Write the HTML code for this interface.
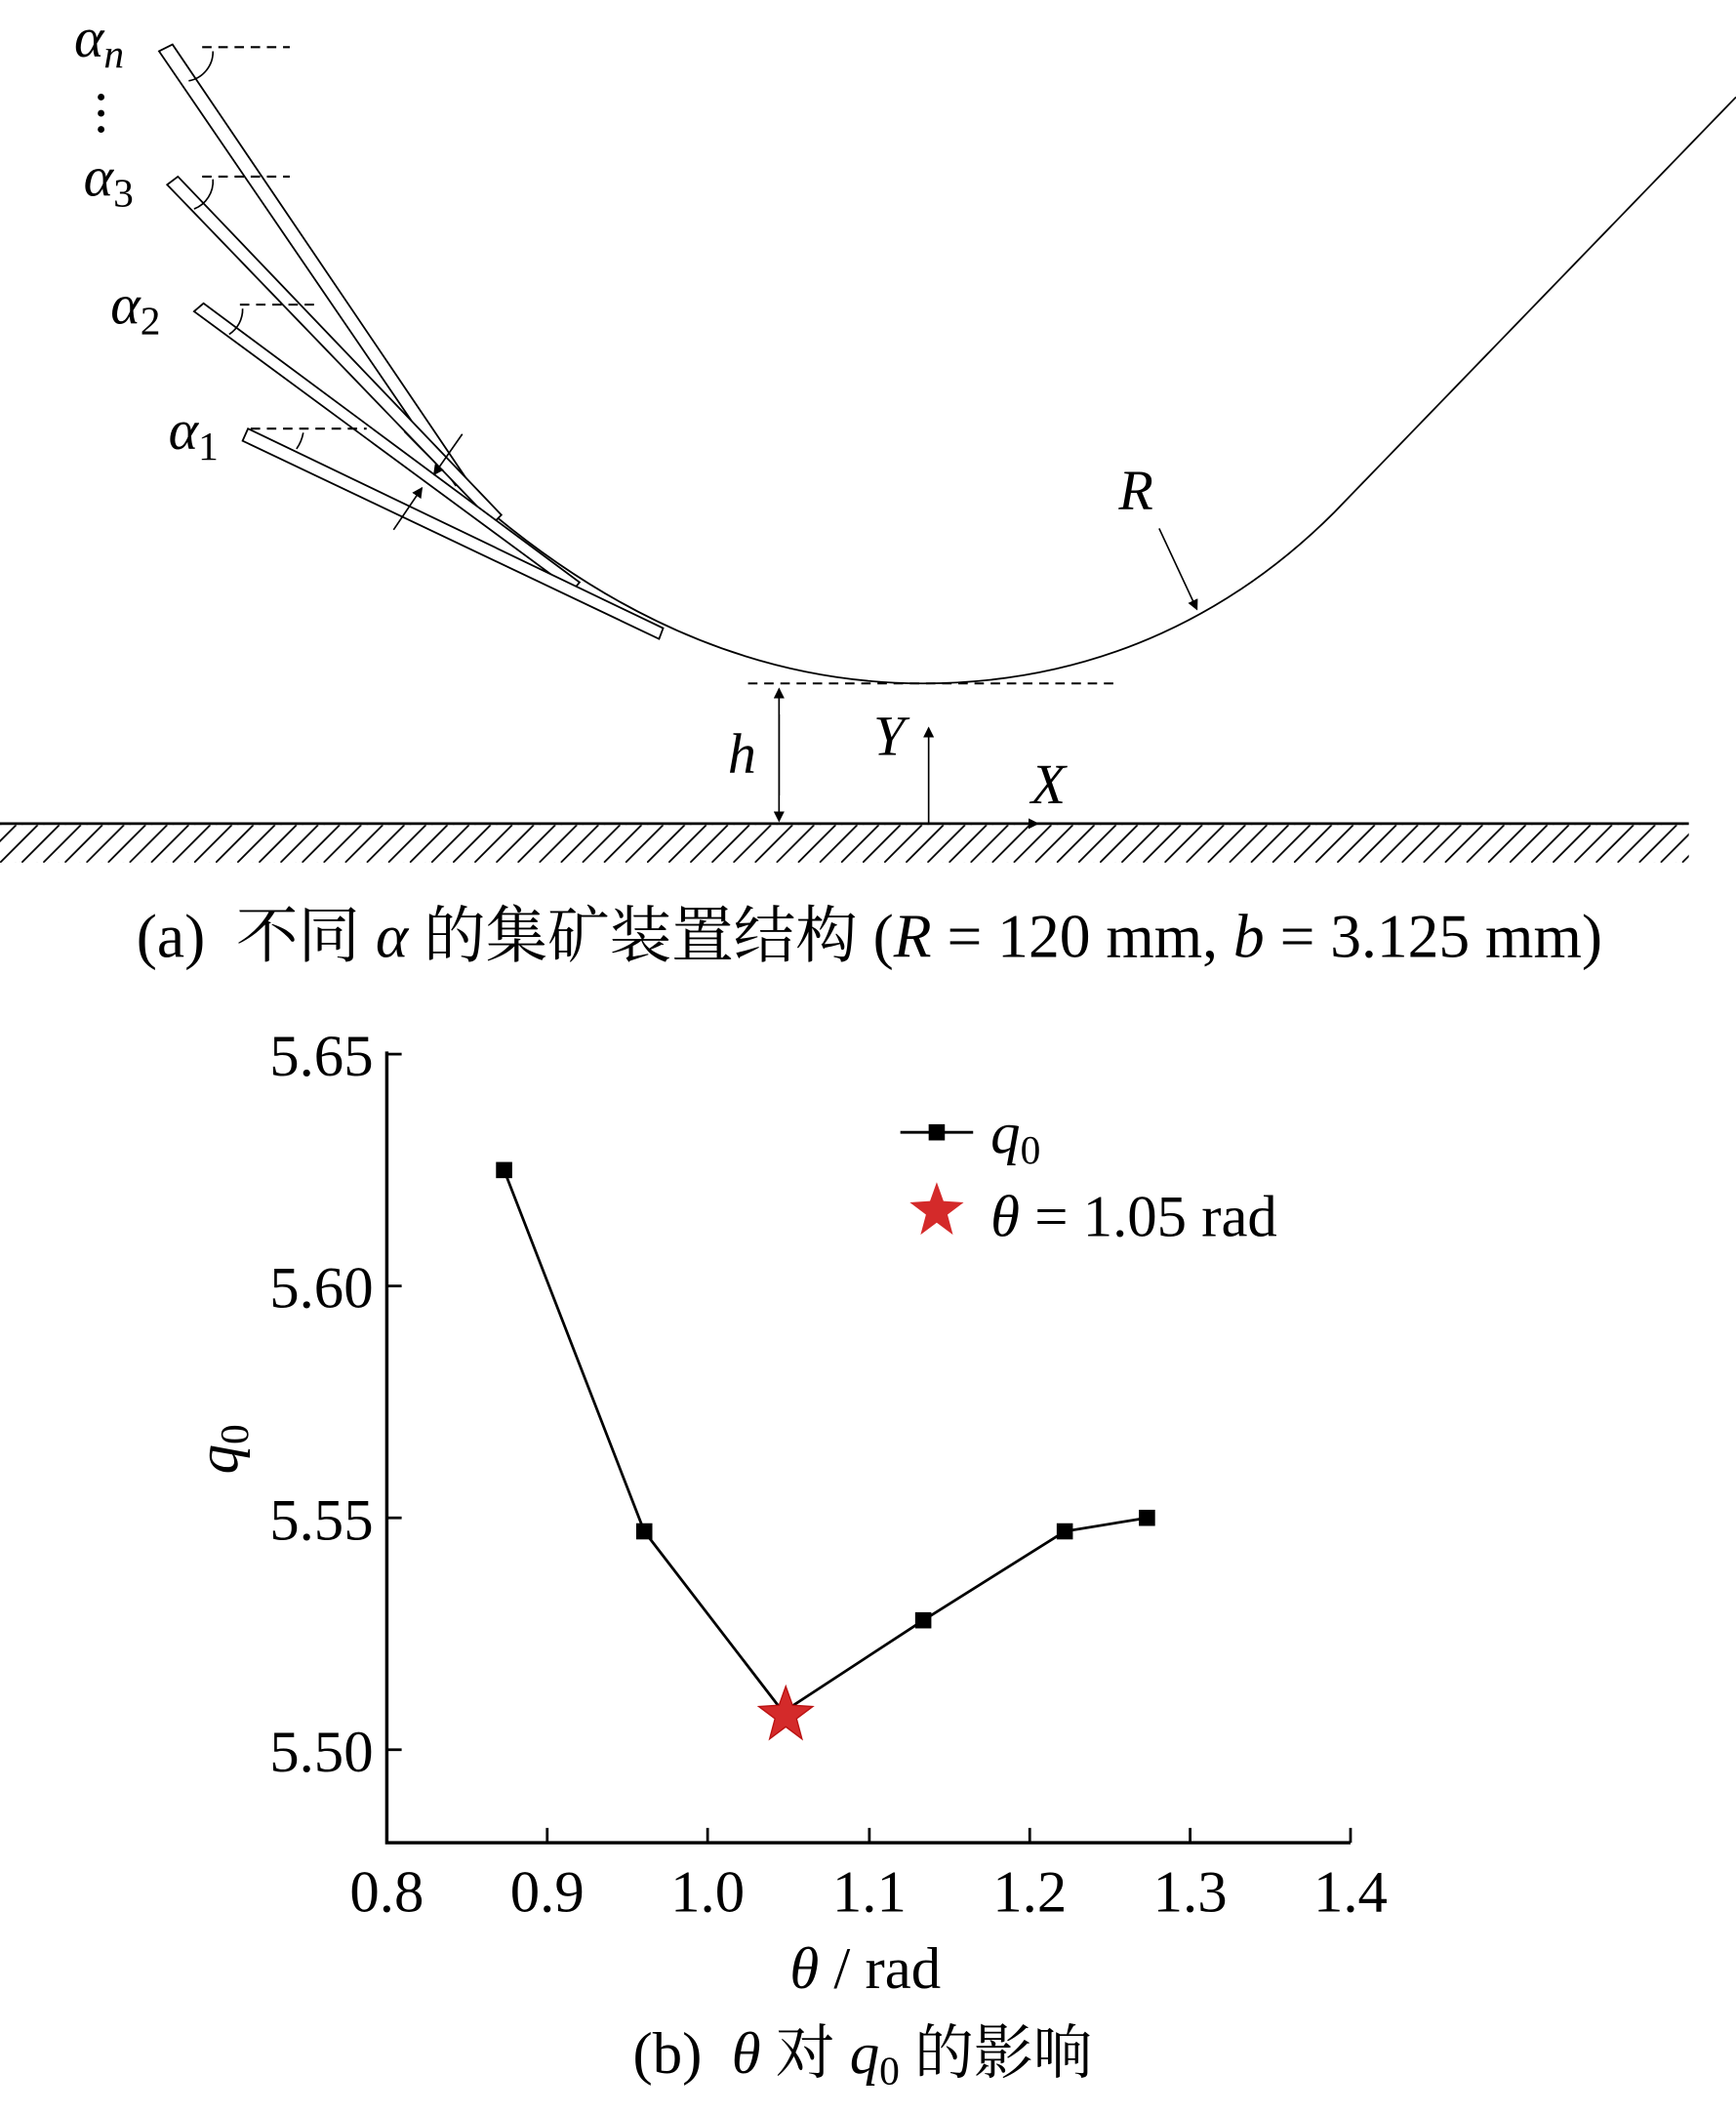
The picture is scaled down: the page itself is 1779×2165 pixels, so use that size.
<!DOCTYPE html>
<html><head><meta charset="utf-8"><style>html,body{margin:0;padding:0;background:#fff}svg{display:block}</style></head>
<body>
<svg width="1779" height="2165" viewBox="0 0 1288 1567.5" preserveAspectRatio="none" xmlns="http://www.w3.org/2000/svg" font-family="'Liberation Serif','Noto Serif CJK SC',serif">
<defs>
<marker id="ar" markerWidth="8" markerHeight="8" refX="7" refY="4" orient="auto" markerUnits="userSpaceOnUse"><path d="M0,0 L8,4 L0,8 z" fill="#000"/></marker>
<pattern id="hatch" x="0" y="612" width="16" height="28" patternUnits="userSpaceOnUse"><line x1="28" y1="0" x2="0" y2="28" stroke="#000" stroke-width="1.3"/><line x1="12" y1="0" x2="-16" y2="28" stroke="#000" stroke-width="1.3"/></pattern>
</defs>
<path d="M 300 320 C 430 455, 560 507, 685 507 C 820 507, 920 450, 990 380 L 1288 72" fill="none" stroke="#000" stroke-width="1.3"/>
<g fill="#fff" stroke="#000" stroke-width="1.3">
<polygon points="118,38 128,33 346,355 338,360"/>
<polygon points="124,137 132,131 372,382 366,388"/>
<polygon points="144,231 151,225 430,432 425,438"/>
<polygon points="180,327 184,318 492,466 489,474"/>
</g>
<g stroke="#000" stroke-width="1.5" stroke-dasharray="7,5" fill="none">
<line x1="150" y1="35" x2="215" y2="35"/>
<line x1="150" y1="131" x2="215" y2="131"/>
<line x1="178" y1="226" x2="238" y2="226"/>
<line x1="186" y1="318" x2="272" y2="318"/>
<line x1="555" y1="507" x2="828" y2="507"/>
</g>
<g stroke="#000" stroke-width="1.2" fill="none">
<path d="M158,38 A22,22 0 0 1 140,60"/>
<path d="M158,133 A22,22 0 0 1 144,155"/>
<path d="M180,229 A22,22 0 0 1 170,248"/>
<path d="M225,321 A30,30 0 0 1 220,333"/>
<line x1="343" y1="322" x2="322" y2="352" marker-end="url(#ar)"/>
<line x1="292" y1="393" x2="313" y2="362" marker-end="url(#ar)"/>
<line x1="860" y1="392" x2="888" y2="452" marker-end="url(#ar)"/>
<line x1="578" y1="590" x2="578" y2="511" marker-end="url(#ar)"/>
<line x1="578" y1="530" x2="578" y2="609" marker-end="url(#ar)"/>
<line x1="689" y1="611" x2="689" y2="540" marker-end="url(#ar)"/>
<line x1="689" y1="611" x2="770" y2="611" marker-end="url(#ar)"/>
</g>
<line x1="0" y1="611" x2="1253" y2="611" stroke="#000" stroke-width="2"/>
<rect x="0" y="612" width="1253" height="28" fill="url(#hatch)"/>
<g fill="#000"><circle cx="75" cy="72" r="2.5"/><circle cx="75" cy="84" r="2.5"/><circle cx="75" cy="96" r="2.5"/></g>
<g font-size="42" font-style="italic">
<text x="55" y="42">α<tspan font-size="30" dy="8">n</tspan></text>
<text x="62" y="145">α<tspan font-size="30" dy="8" font-style="normal">3</tspan></text>
<text x="82" y="240">α<tspan font-size="30" dy="8" font-style="normal">2</tspan></text>
<text x="125" y="333">α<tspan font-size="30" dy="8" font-style="normal">1</tspan></text>
<text x="830" y="378">R</text>
<text x="540" y="573">h</text>
<text x="648" y="560">Y</text>
<text x="765" y="596">X</text>
</g>
<text x="645" y="710" font-size="46" text-anchor="middle" xml:space="preserve">(a)  不同 <tspan font-style="italic">α</tspan> 的集矿装置结构 (<tspan font-style="italic">R</tspan> = 120 mm, <tspan font-style="italic">b</tspan> = 3.125 mm)</text>
<g stroke="#000" stroke-width="2.5" fill="none">
<polyline points="287,780 287,1367 1002,1367"/>
</g>
<g stroke="#000" stroke-width="2">
<line x1="406" y1="1367" x2="406" y2="1356"/><line x1="525" y1="1367" x2="525" y2="1356"/>
<line x1="645" y1="1367" x2="645" y2="1356"/><line x1="764" y1="1367" x2="764" y2="1356"/>
<line x1="883" y1="1367" x2="883" y2="1356"/><line x1="1002" y1="1367" x2="1002" y2="1356"/>
<line x1="287" y1="782" x2="298" y2="782"/><line x1="287" y1="954" x2="298" y2="954"/>
<line x1="287" y1="1126" x2="298" y2="1126"/><line x1="287" y1="1298" x2="298" y2="1298"/>
</g>
<g font-size="44" text-anchor="middle">
<text x="287" y="1418">0.8</text><text x="406" y="1418">0.9</text><text x="525" y="1418">1.0</text>
<text x="645" y="1418">1.1</text><text x="764" y="1418">1.2</text><text x="883" y="1418">1.3</text><text x="1002" y="1418">1.4</text>
</g>
<g font-size="44" text-anchor="end">
<text x="277" y="798">5.65</text><text x="277" y="970">5.60</text><text x="277" y="1142">5.55</text><text x="277" y="1314">5.50</text>
</g>
<text x="642" y="1475" font-size="44" text-anchor="middle" xml:space="preserve"><tspan font-style="italic">θ</tspan> / rad</text>
<text transform="translate(176,1075) rotate(-90)" font-size="44" text-anchor="middle"><tspan font-style="italic">q</tspan><tspan font-size="30" dy="8">0</tspan></text>
<polyline points="374,868 478,1136 581,1270 685,1202 790,1136 851,1126" fill="none" stroke="#000" stroke-width="2"/>
<g fill="#000">
<rect x="368" y="862" width="12" height="12"/><rect x="472" y="1130" width="12" height="12"/>
<rect x="679" y="1196" width="12" height="12"/><rect x="784" y="1130" width="12" height="12"/><rect x="845" y="1120" width="12" height="12"/>
<line x1="668" y1="840" x2="722" y2="840" stroke="#000" stroke-width="2"/>
<rect x="689" y="834" width="12" height="12"/>
</g>
<path transform="translate(583,1272)" d="M0,-21 L5,-7 L20,-6 L8,3 L12,18 L0,9 L-12,18 L-8,3 L-20,-6 L-5,-7 z" fill="#d42a2a" stroke="#b11" stroke-width="1"/>
<path transform="translate(695,898)" d="M0,-21 L5,-7 L20,-6 L8,3 L12,18 L0,9 L-12,18 L-8,3 L-20,-6 L-5,-7 z" fill="#d42a2a"/>
<text x="735" y="855" font-size="44"><tspan font-style="italic">q</tspan><tspan font-size="30" dy="8">0</tspan></text>
<text x="735" y="917" font-size="44" xml:space="preserve"><tspan font-style="italic">θ</tspan> = 1.05 rad</text>
<text x="640" y="1538" font-size="44" text-anchor="middle" xml:space="preserve">(b)  <tspan font-style="italic">θ</tspan> 对 <tspan font-style="italic">q</tspan><tspan font-size="30" dy="8">0</tspan><tspan dy="-8"> 的影响</tspan></text>
</svg>
</body></html>
